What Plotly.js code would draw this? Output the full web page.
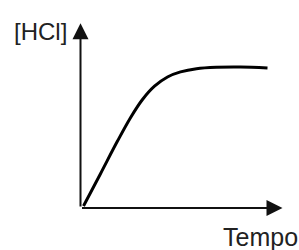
<!DOCTYPE html>
<html>
<head>
<meta charset="utf-8">
<script src="https://cdn.plot.ly/plotly-3.0.1.min.js"></script>
<style>
html,body{margin:0;padding:0;background:#fff;}
#chart{width:299px;height:250px;}
</style>
</head>
<body>
<div id="chart"></div>
<script>
// Data (arbitrary units)
const tempo = [0.15, 1.0, 1.85, 2.5, 3.1, 3.7, 4.35, 5.0, 5.8, 6.8, 8.0, 9.35];
const hcl   = [0.14, 2.45, 4.78, 6.45, 7.75, 8.7, 9.36, 9.72, 9.95, 10.05, 10.07, 10.0];
const xLabel = "Tempo";
const yLabel = "[HCl]";
const xAxisEnd = 10.1;
const yAxisEnd = 13.2;

const trace = {
  x: tempo, y: hcl, type: 'scatter', mode: 'lines',
  line: {color: '#000', width: 3, shape: 'spline', smoothing: 1},
  hoverinfo: 'skip'
};

const layout = {
  width: 299, height: 250,
  margin: {l: 0, r: 0, t: 0, b: 0},
  paper_bgcolor: '#fff', plot_bgcolor: '#fff',
  showlegend: false,
  xaxis: {range: [-4.025, 10.925], visible: false, fixedrange: true},
  yaxis: {range: [-3, 14.857], visible: false, fixedrange: true},
  annotations: [
    {x: 0, y: yAxisEnd, ax: 0, ay: 0, xref: 'x', yref: 'y', axref: 'x', ayref: 'y',
     showarrow: true, arrowhead: 2, arrowsize: 1.6, arrowwidth: 2, arrowcolor: '#111', text: '', standoff: 0},
    {x: xAxisEnd, y: 0, ax: 0, ay: 0, xref: 'x', yref: 'y', axref: 'x', ayref: 'y',
     showarrow: true, arrowhead: 2, arrowsize: 1.6, arrowwidth: 2, arrowcolor: '#111', text: '', standoff: 0},
    {x: 40.5/299, y: 1 - 31/250, xref: 'paper', yref: 'paper', xanchor: 'center', yanchor: 'middle',
     showarrow: false, text: yLabel, font: {family: 'Liberation Sans, Arial', size: 24, color: '#222'}},
    {x: 260/299, y: 1 - 236.5/250, xref: 'paper', yref: 'paper', xanchor: 'center', yanchor: 'middle',
     showarrow: false, text: xLabel, font: {family: 'Liberation Sans, Arial', size: 25, color: '#222'}}
  ]
};

Plotly.newPlot('chart', [trace], layout, {displayModeBar: false, staticPlot: true});
</script>
</body>
</html>
